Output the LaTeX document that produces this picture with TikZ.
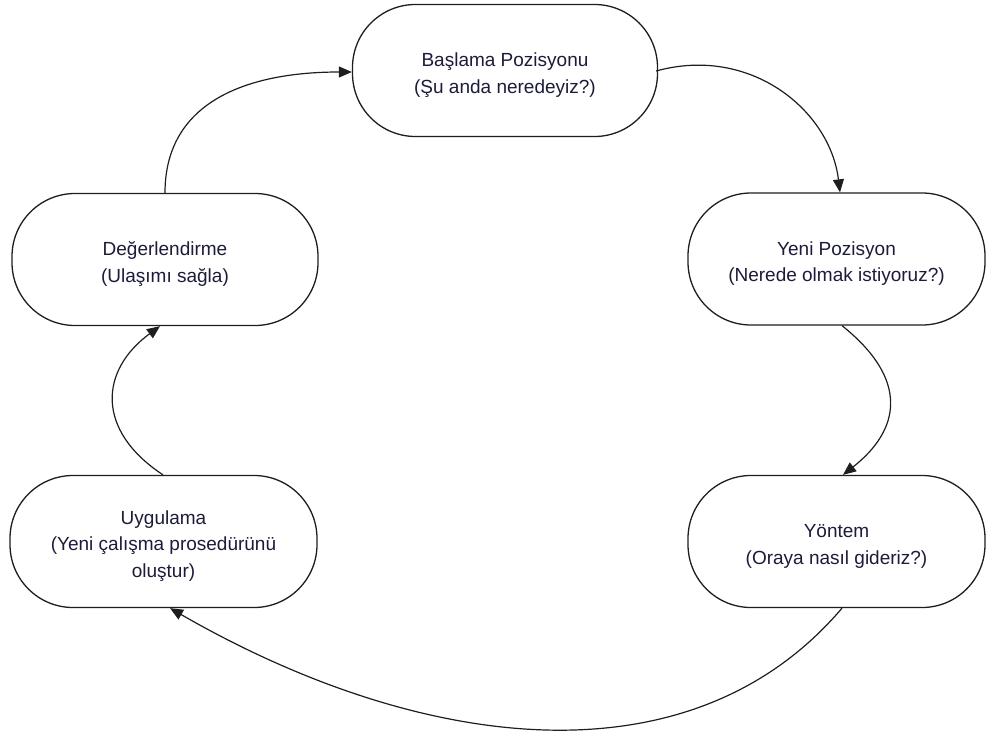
\documentclass[tikz,border=0pt]{standalone}
\usepackage{fontspec}
\setmainfont{Liberation Sans}
\usetikzlibrary{arrows.meta}
\definecolor{inkline}{RGB}{30,30,30}
\definecolor{inktext}{RGB}{28,28,58}
% centred stage caption, set a little below the geometric centre
\newcommand{\stagetext}[1]{\raisebox{-4pt}[\height][\depth]{\begin{tabular}{@{}c@{}}#1\end{tabular}}}
\begin{document}
\begin{tikzpicture}[x=1pt,y=-1pt,
  stadium/.style={draw=inkline, line width=1.3pt, fill=white, rectangle,
    rounded corners=63pt, minimum height=132pt, inner sep=0pt,
    text=inktext, font=\fontsize{19}{26.5}\selectfont},
  flow/.style={draw=inkline, line width=1.2pt,
    -{Triangle[length=13pt,width=11pt]}}]
\useasboundingbox (0,0) rectangle (987,736);

% process stages
\node[stadium, minimum width=305pt] (bas) at (505,70.5)
  {\stagetext{Başlama Pozisyonu\\(Şu anda neredeyiz?)}};
\node[stadium, minimum width=297pt] (yeni) at (836.5,259)
  {\stagetext{Yeni Pozisyon\\(Nerede olmak istiyoruz?)}};
\node[stadium, minimum width=297pt] (yontem) at (836.5,541.5)
  {\stagetext{Yöntem\\(Oraya nasıl gideriz?)}};
\node[stadium, minimum width=307pt] (uyg) at (163.5,541.5)
  {\stagetext{Uygulama\\(Yeni çalışma prosedürünü\\oluştur)}};
\node[stadium, minimum width=306pt] (deg) at (165,259.5)
  {\stagetext{Değerlendirme\\(Ulaşımı sağla)}};

% cycle connectors
\draw[flow] (deg.north) .. controls (165,100) and (250,72) .. ([yshift=-1.5]bas.west);
\draw[flow] ([xshift=-2,yshift=-0.5]bas.east) .. controls (750,45) and (830,110) .. ([xshift=3.5]yeni.north);
\draw[flow] ([xshift=5.5]yeni.south) .. controls (910,380) and (900,430) .. ([xshift=6.5]yontem.north);
\draw[flow] ([xshift=5.5]yontem.south) .. controls (690,787) and (420,752) .. ([xshift=6.5]uyg.south);
\draw[flow] ([xshift=-0.5]uyg.north) .. controls (95,430) and (100,370) .. ([xshift=-5]deg.south);
\end{tikzpicture}
\end{document}
